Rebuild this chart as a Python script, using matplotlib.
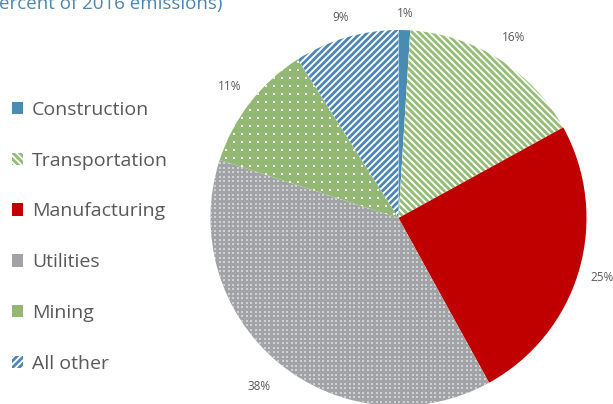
import matplotlib.pyplot as plt
import numpy as np

plt.rcParams["font.family"] = ["Open Sans", "DejaVu Sans"]
plt.rcParams["hatch.linewidth"] = 2.0

sectores = ["Construction", "Transportation", "Manufacturing", "Utilities", "Mining", "All other"]
porcentajes = [1, 16, 25, 38, 11, 9]

# relleno, color de trama y trama de cada sector
fondos = ["#4a8bb2", "white", "#c00000", "#a2a3a7", "#93b874", "white"]
tramas_color = ["#4a8bb2", "#93bd72", "#c00000", "#a2a3a7", "#93b874", "#4a86b8"]
tramas = [None, "\\\\\\\\\\", None, None, None, "/////"]
# puntos de textura: (color, separacion en pixeles) o None
puntos = [None, None, None, ("#cfd0d2", 4.5), ("#f2f6ec", 8), None]
# distancia de cada etiqueta al centro (en radios)
dist_etiq = [1.09, 1.14, 1.13, 1.16, 1.14, 1.11]

W, H = 613, 404
fig = plt.figure(figsize=(W / 100, H / 100), dpi=100)

# eje de la torta en pixeles (centro 398,218, radio 188)
cx, cy, r = 398.5, 218, 188
ax = fig.add_axes([(cx - r) / W, (H - cy - r) / H, 2 * r / W, 2 * r / H])
wedges, textos, pcts = ax.pie(porcentajes, startangle=90, counterclock=False,
                              autopct="%d%%", pctdistance=1.11,
                              textprops=dict(color="#595959", fontsize=8.5))
for w, f, tc, t, p in zip(wedges, fondos, tramas_color, tramas, puntos):
    w.set_facecolor(f)
    w.set_edgecolor(tc)
    w.set_linewidth(0)
    if t:
        w.set_hatch(t)
    if p:
        # grilla de puntitos recortada al sector
        paso = p[1] / r
        g = np.arange(-1, 1, paso)
        gx, gy = np.meshgrid(g, g)
        sc = ax.scatter(gx.ravel(), gy.ravel(), s=1.2, c=p[0], marker="s",
                        linewidths=0)
        sc.set_clip_path(w)

# reubicar etiquetas sobre el angulo medio de cada sector
for w, txt, d in zip(wedges, pcts, dist_etiq):
    ang = np.deg2rad((w.theta1 + w.theta2) / 2)
    txt.set_position((d * np.cos(ang), d * np.sin(ang)))

ax.set_xlim(-1, 1)
ax.set_ylim(-1, 1)
ax.set_aspect("equal")
ax.axis("off")

leg = fig.legend(wedges, sectores, loc="upper left",
                 bbox_to_anchor=(2 / W, 1 - 91 / H), frameon=False,
                 fontsize=14, labelcolor="#595959",
                 handlelength=0.6, handleheight=0.6, handletextpad=0.45,
                 labelspacing=1.69, borderpad=0)

# titulo cortado arriba a la izquierda
fig.text(222 / W, 1 - 9 / H, "(percent of 2016 emissions)", ha="right",
         va="baseline", color="#4a86b8", fontsize=13.5)

fig.savefig("out.png", dpi=100)
